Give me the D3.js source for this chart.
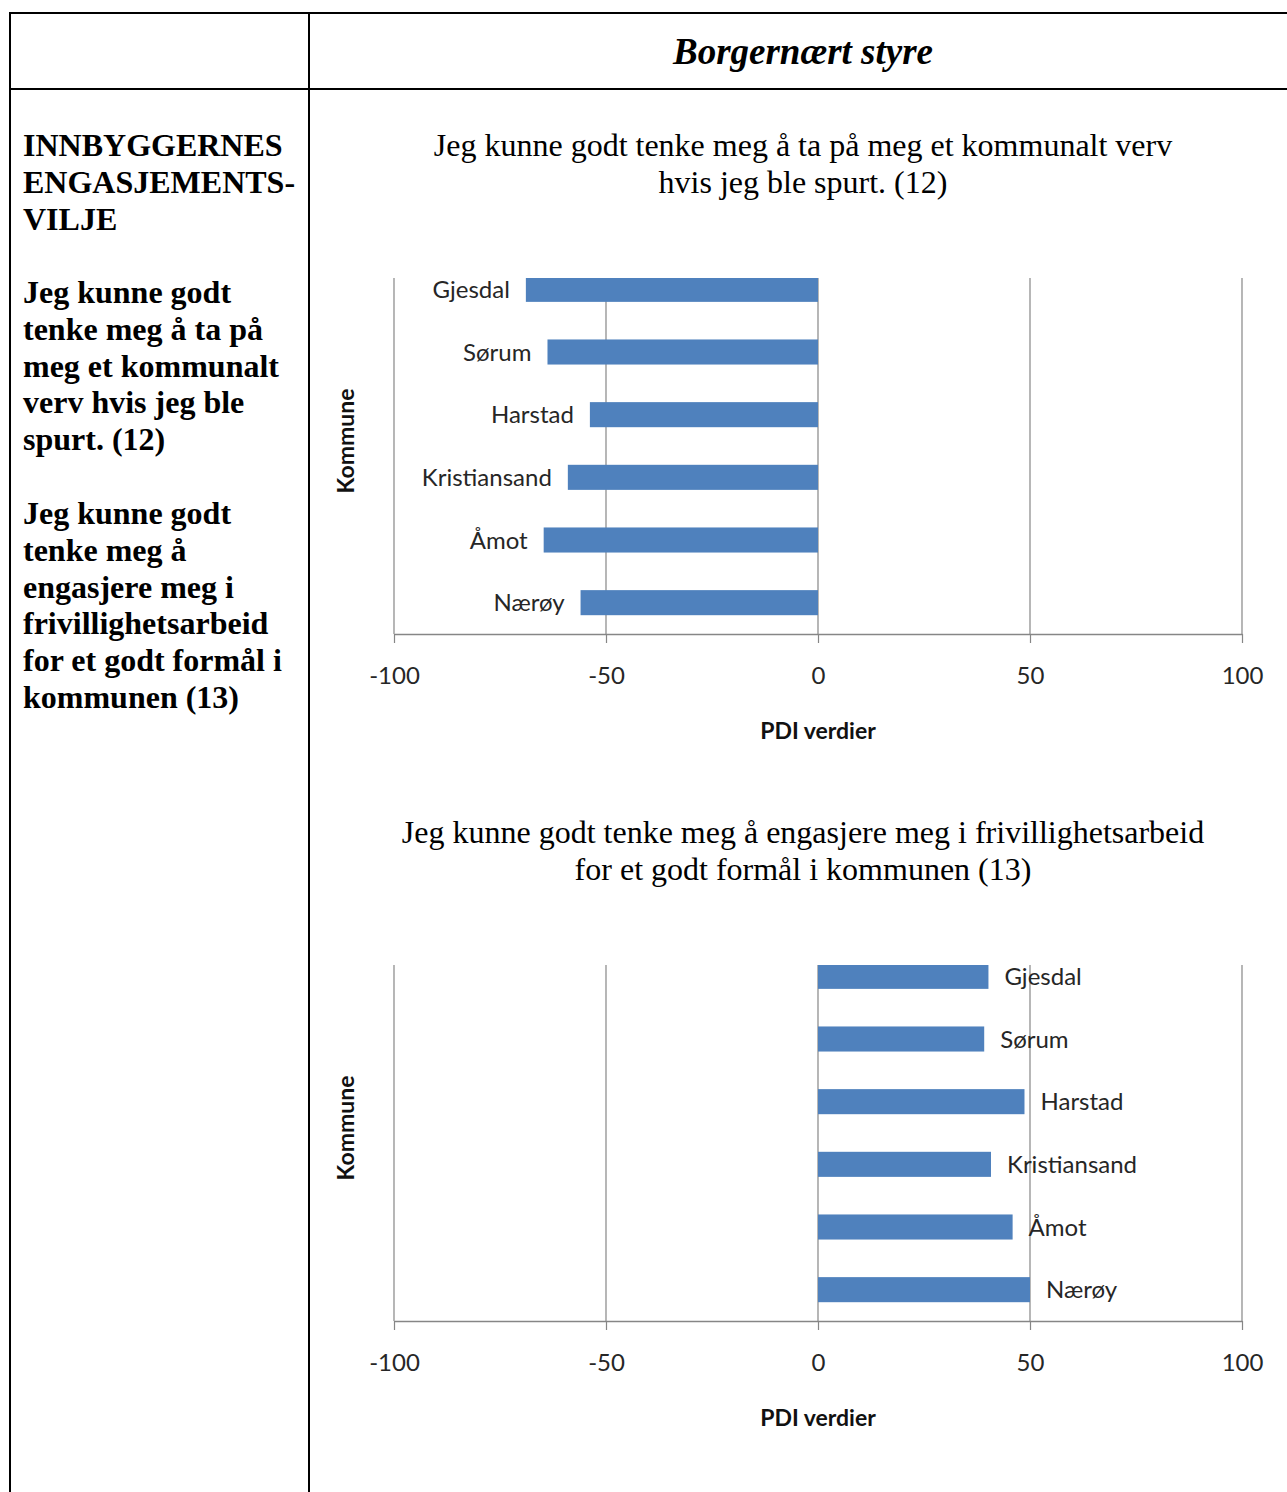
<!DOCTYPE html>
<html>
<head>
<meta charset="utf-8">
<script src="https://cdn.jsdelivr.net/npm/d3@7/dist/d3.min.js"></script>
<style>
  html, body { margin: 0; padding: 0; background: #fff; }
  svg { display: block; }
</style>
</head>
<body>
<svg id="page" width="1287" height="1492"></svg>
<script>
// ---- Data ----
const categories = ["Gjesdal", "Sørum", "Harstad", "Kristiansand", "Åmot", "Nærøy"];
const values12 = [-68.9, -63.8, -53.8, -59.0, -64.7, -56.0];
const values13 = [40.2, 39.2, 48.7, 40.8, 45.9, 50.0];
const tickValues = [-100, -50, 0, 50, 100];
const tickLabels = ["-100", "-50", "0", "50", "100"];
const headerTitle = "Borgernært styre";
const sectionTitle = ["INNBYGGERNES", "ENGASJEMENTS-", "VILJE"];
const leftText1 = ["Jeg kunne godt", "tenke meg å ta på", "meg et kommunalt", "verv hvis jeg ble", "spurt. (12)"];
const leftText2 = ["Jeg kunne godt", "tenke meg å", "engasjere meg i", "frivillighetsarbeid", "for et godt formål i", "kommunen (13)"];
const chartTitle12 = ["Jeg kunne godt tenke meg å ta på meg et kommunalt verv", "hvis jeg ble spurt. (12)"];
const chartTitle13 = ["Jeg kunne godt tenke meg å engasjere meg i frivillighetsarbeid", "for et godt formål i kommunen (13)"];
const xAxisTitle = "PDI verdier";
const yAxisTitle = "Kommune";

const svg = d3.select("#page");
const SERIF = "'Liberation Serif', 'Times New Roman', serif";
const SANS = "Lato, 'Open Sans', sans-serif";
const BAR = "#4F81BD";
const GRID = "#868686";

// ---- Table frame ----
const frame = svg.append("g").attr("stroke", "#000").attr("stroke-width", 2);
frame.append("line").attr("x1", 9).attr("x2", 1287).attr("y1", 13).attr("y2", 13);
frame.append("line").attr("x1", 9).attr("x2", 1287).attr("y1", 89).attr("y2", 89);
frame.append("line").attr("x1", 10).attr("x2", 10).attr("y1", 12).attr("y2", 1492);
frame.append("line").attr("x1", 309).attr("x2", 309).attr("y1", 12).attr("y2", 1492);

svg.append("text").attr("x", 803).attr("y", 64)
  .attr("text-anchor", "middle").attr("font-family", SERIF)
  .attr("font-size", 37).attr("font-weight", "bold").attr("font-style", "italic")
  .text(headerTitle);

// ---- Left column text ----
function leftBlock(lines, y0) {
  svg.append("g").selectAll("text").data(lines).join("text")
    .attr("x", 23).attr("y", (d, i) => y0 + i * 36.8)
    .attr("font-family", SERIF).attr("font-size", 32).attr("font-weight", "bold")
    .text(d => d);
}
leftBlock(sectionTitle, 156);
leftBlock(leftText1, 303);
leftBlock(leftText2, 524);

// ---- Charts ----
function drawChart(values, titleLines, offsetY, labelSide) {
  const g = svg.append("g").attr("transform", `translate(0,${offsetY})`);
  const plotTop = 278, plotBottom = 634, left = 394, right = 1242;
  const x = d3.scaleLinear().domain([-100, 100]).range([left, right]);
  const y = d3.scaleBand().domain(categories).range([258, plotBottom])
    .paddingInner(0.6).paddingOuter(0.3);

  // title
  g.append("g").selectAll("text").data(titleLines).join("text")
    .attr("x", 803).attr("y", (d, i) => 156 + i * 37)
    .attr("text-anchor", "middle").attr("font-family", SERIF).attr("font-size", 32)
    .text(d => d);

  // gridlines
  g.append("g").selectAll("line").data(tickValues.slice(1)).join("line")
    .attr("x1", d => x(d)).attr("x2", d => x(d))
    .attr("y1", plotTop).attr("y2", plotBottom)
    .attr("stroke", GRID).attr("stroke-width", 1.2);

  // y axis line
  g.append("line").attr("x1", left).attr("x2", left)
    .attr("y1", plotTop).attr("y2", plotBottom)
    .attr("stroke", GRID).attr("stroke-width", 1.2);

  // bars (clipped to plot area)
  const clipId = "clip" + offsetY;
  g.append("clipPath").attr("id", clipId).append("rect")
    .attr("x", left).attr("y", plotTop).attr("width", right - left).attr("height", plotBottom - plotTop);
  g.append("g").attr("clip-path", `url(#${clipId})`)
    .selectAll("rect").data(values).join("rect")
    .attr("x", d => x(Math.min(0, d)))
    .attr("width", d => Math.abs(x(d) - x(0)))
    .attr("y", (d, i) => y(categories[i]))
    .attr("height", y.bandwidth())
    .attr("fill", BAR);

  // category data labels
  g.append("g").selectAll("text").data(values).join("text")
    .attr("x", d => labelSide === "left" ? x(d) - 16 : x(d) + 16)
    .attr("y", (d, i) => y(categories[i]) + y.bandwidth() / 2)
    .attr("dy", "0.36em")
    .attr("text-anchor", labelSide === "left" ? "end" : "start")
    .attr("font-family", SANS).attr("font-size", 24).attr("fill", "#262626")
    .text((d, i) => categories[i]);

  // x axis
  const axis = d3.axisBottom(x).tickValues(tickValues)
    .tickFormat((d, i) => tickLabels[i])
    .tickSizeInner(9).tickSizeOuter(0).tickPadding(24);
  const ax = g.append("g").attr("transform", `translate(0,${plotBottom})`).call(axis);
  ax.select(".domain").attr("stroke", GRID).attr("stroke-width", 1.5);
  ax.selectAll(".tick line").attr("stroke", GRID).attr("stroke-width", 1.2);
  ax.selectAll(".tick text").attr("font-family", SANS).attr("font-size", 24).attr("fill", "#262626");

  // axis titles
  g.append("text").attr("x", 818).attr("y", 739).attr("text-anchor", "middle")
    .attr("font-family", SANS).attr("font-size", 23).attr("font-weight", "bold").attr("fill", "#111")
    .text(xAxisTitle);
  g.append("text").attr("transform", `translate(354,441) rotate(-90)`).attr("text-anchor", "middle")
    .attr("font-family", SANS).attr("font-size", 23).attr("font-weight", "bold").attr("fill", "#111")
    .text(yAxisTitle);
}

drawChart(values12, chartTitle12, 0, "left");
drawChart(values13, chartTitle13, 687, "right");
</script>
</body>
</html>
